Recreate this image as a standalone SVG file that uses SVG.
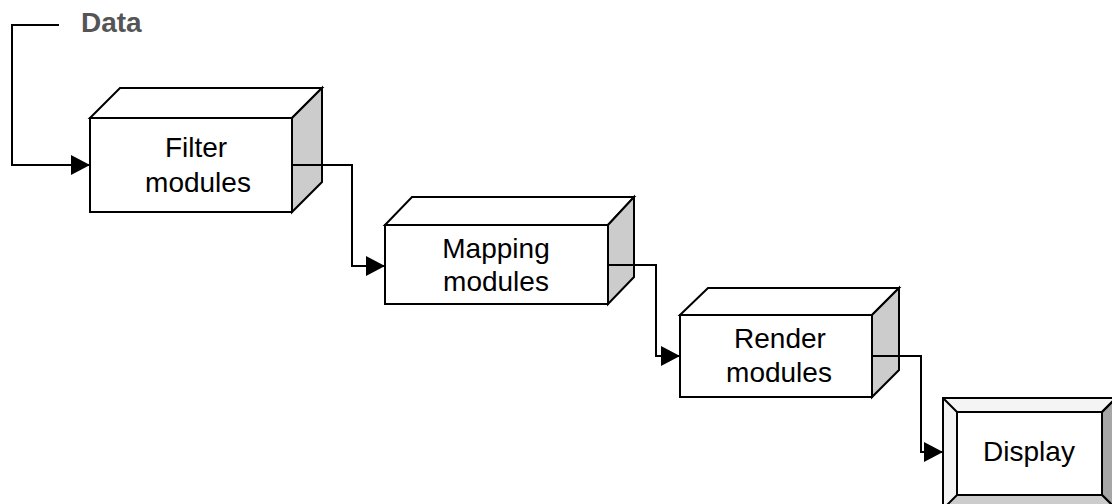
<svg xmlns="http://www.w3.org/2000/svg" width="1112" height="504" viewBox="0 0 1112 504">
  <style>
    .face { fill: #ffffff; stroke: #000000; stroke-width: 2; stroke-linejoin: miter; }
    .side { fill: #cccccc; stroke: #000000; stroke-width: 2; stroke-linejoin: miter; }
    .label { font-family: "Liberation Sans", Arial, sans-serif; font-size: 28px; fill: #000000; text-anchor: middle; }
    .wire { fill: none; stroke: #000000; stroke-width: 2; }
  </style>
  <defs>
    <marker id="arrow" markerUnits="userSpaceOnUse" markerWidth="20" markerHeight="22" viewBox="0 0 20 22" refX="19" refY="11" orient="auto">
      <path d="M0,1 L19,11 L0,21 Z" fill="#000000"/>
    </marker>
  </defs>

  <!-- input label -->
  <text x="81" y="32" font-family="Liberation Sans, Arial, sans-serif" font-size="28" font-weight="bold" fill="#555555">Data</text>

  <!-- Filter stage -->
  <g id="filter">
    <path class="face" d="M90,118 L120,88 L322,88 L292,118 Z"/>
    <path class="side" d="M292,118 L322,88 L322,182 L292,212 Z"/>
    <rect class="face" x="90" y="118" width="202" height="94"/>
    <text class="label" x="196" y="157">Filter</text>
    <text class="label" x="198" y="192">modules</text>
  </g>

  <!-- Mapping stage -->
  <g id="mapping">
    <path class="face" d="M385,225 L412,197 L634,197 L608,225 Z"/>
    <path class="side" d="M608,225 L634,197 L634,277 L608,304 Z"/>
    <rect class="face" x="385" y="225" width="223" height="79"/>
    <text class="label" x="496" y="258">Mapping</text>
    <text class="label" x="496" y="291">modules</text>
  </g>

  <!-- Render stage -->
  <g id="render">
    <path class="face" d="M680,315 L708,288 L899,288 L872,315 Z"/>
    <path class="side" d="M872,315 L899,288 L899,370 L872,397 Z"/>
    <rect class="face" x="680" y="315" width="192" height="82"/>
    <text class="label" x="780" y="348">Render</text>
    <text class="label" x="779" y="382">modules</text>
  </g>

  <!-- Display output, bevelled panel -->
  <g id="display">
    <rect x="943" y="398" width="173" height="111" fill="#f4f4f4" stroke="#000000" stroke-width="2"/>
    <path d="M1102,412 L1116,398 L1116,509 L1102,495 Z" fill="#a6a6a6" stroke="#000000" stroke-width="2"/>
    <path d="M957,495 L1102,495 L1116,509 L943,509 Z" fill="#cccccc" stroke="#000000" stroke-width="2"/>
    <path d="M943,398 L957,412 M1102,412 L1116,398" stroke="#000000" stroke-width="2" fill="none"/>
    <rect class="face" x="957" y="412" width="145" height="83"/>
    <text class="label" x="1029" y="461">Display</text>
  </g>

  <!-- connectors -->
  <g id="connectors">
    <path class="wire" d="M59,25 H12 V165 H90" marker-end="url(#arrow)"/>
    <path class="wire" d="M292,165 H352 V266 H385" marker-end="url(#arrow)"/>
    <path class="wire" d="M608,265 H656 V356 H680" marker-end="url(#arrow)"/>
    <path class="wire" d="M872,356 H921 V452 H943" marker-end="url(#arrow)"/>
  </g>
</svg>
